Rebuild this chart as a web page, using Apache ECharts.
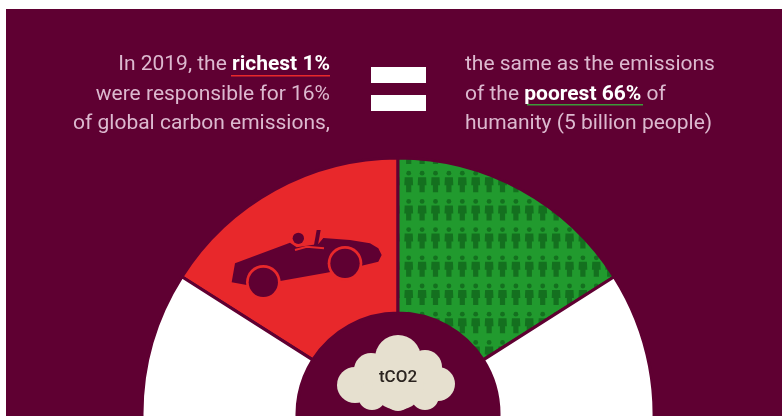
<!DOCTYPE html>
<html>
<head>
<meta charset="utf-8">
<style>html,body{margin:0;padding:0;background:#fff}#c{width:782px;height:416px}</style>
<script src="https://cdn.jsdelivr.net/npm/echarts@6/dist/echarts.min.js"></script>
</head>
<body>
<div id="c"></div>
<script>
const categories = ['Richest 1%', 'Poorest 66%', 'Rest of humanity'];
const shares = [16, 16, 68];
const leftLines = ['In 2019, the {b|richest 1%}', 'were responsible for 16%', 'of global carbon emissions,'];
const rightLines = ['the same as the emissions', 'of the {b|poorest 66%} of', 'humanity (5 billion people)'];
const cloudLabel = 'tCO2';

const BG = '#5f0032', RED = '#e8282b', GREEN = '#219a2e', PERSON = '#14701f', WHITE = '#ffffff', CLOUD = '#e6e0cf', TXT = '#dcb9cf';
const FONT = 'Roboto, sans-serif';

function peopleTile() {
  const w = 13.4, h = 28.2, cv = document.createElement('canvas');
  cv.width = 67; cv.height = 141;
  const g = cv.getContext('2d');
  g.fillStyle = GREEN; g.fillRect(0, 0, 67, 141);
  g.fillStyle = PERSON;
  for (let r = 0; r < 5; r++) for (let k = 0; k < 5; k++) {
    const x = k * w + w / 2, y = r * h + 1;
    g.beginPath(); g.arc(x, y + 3, 2.4, 0, 7); g.fill();
    g.beginPath();
    g.moveTo(x - 4, y + 7); g.lineTo(x + 4, y + 7); g.lineTo(x + 4.4, y + 15);
    g.lineTo(x + 2.6, y + 15); g.lineTo(x + 2.6, y + 22); g.lineTo(x - 2.6, y + 22);
    g.lineTo(x - 2.6, y + 15); g.lineTo(x - 4.4, y + 15); g.closePath(); g.fill();
  }
  return cv;
}

const chart = echarts.init(document.getElementById('c'), null, { renderer: 'canvas' });
const circle = (cx, cy, r, fill) => ({ type: 'circle', silent: true, z: 10, shape: { cx, cy, r }, style: { fill } });
const poly = (points, fill) => ({ type: 'polygon', silent: true, z: 10, shape: { points }, style: { fill } });
const cloudBumps = [[398,358,23],[371,370,17],[355,385,18],[372,396,14],[398,398,13],[425,396,14],[438,384,17],[425,367,17],[398,384,26]];
const carBody = [[315,340],[480,278],[500,292],[565,282],[580,264],[660,270],[720,280],[745,295],[755,315],[745,335],[695,347],[590,368],[455,392],[350,405],[305,397]];

chart.setOption({
  animation: false,
  backgroundColor: 'transparent',
  series: [{
    type: 'pie',
    silent: true,
    center: [398, 414],
    radius: [101, 256],
    startAngle: 147.6,
    clockwise: true,
    label: { show: false },
    labelLine: { show: false },
    z: 2,
    itemStyle: { borderColor: BG, borderWidth: 3 },
    data: categories.map((name, i) => ({
      name,
      value: shares[i],
      itemStyle: {
        color: i === 0 ? RED : i === 1 ? { image: peopleTile(), repeat: 'repeat' } : WHITE
      }
    }))
  }],
  graphic: [
    { type: 'rect', silent: true, z: -10, shape: { x: 6, y: 9, width: 776, height: 407 }, style: { fill: BG } },
    { type: 'text', silent: true, z: 10, style: {
      x: 330, y: 50, align: 'right', text: leftLines.join('\n'), fill: TXT, font: '21px ' + FONT, lineHeight: 29.5,
      rich: { b: { fill: '#ffffff', font: 'bold 21px ' + FONT, lineHeight: 29.5 } } } },
    { type: 'text', silent: true, z: 10, style: {
      x: 465, y: 50, align: 'left', text: rightLines.join('\n'), fill: TXT, font: '21px ' + FONT, lineHeight: 29.5,
      rich: { b: { fill: '#ffffff', font: 'bold 21px ' + FONT, lineHeight: 29.5 } } } },
    { type: 'rect', silent: true, z: 10, shape: { x: 231, y: 75, width: 99, height: 1.5 }, style: { fill: '#e8282b' } },
    { type: 'rect', silent: true, z: 10, shape: { x: 527, y: 104, width: 116, height: 1.5 }, style: { fill: '#3d9a3a' } },
    { type: 'rect', silent: true, z: 10, shape: { x: 371, y: 67, width: 55, height: 16 }, style: { fill: '#fff' } },
    { type: 'rect', silent: true, z: 10, shape: { x: 371, y: 95, width: 55, height: 16 }, style: { fill: '#fff' } },
    { type: 'group', x: 130, y: 150, scaleX: 1 / 3, scaleY: 1 / 3, silent: true, children: [
      poly(carBody, BG),
      circle(400, 397, 52, RED), circle(400, 397, 44, BG),
      circle(645, 340, 52, RED), circle(645, 340, 44, BG),
      circle(505, 265, 17, BG),
      poly([[560,240],[572,240],[562,296],[550,296]], BG),
      { type: 'polyline', silent: true, z: 11, shape: { points: [[495,300],[530,290],[582,295]] }, style: { stroke: RED, lineWidth: 6, fill: 'none' } }
    ] },
    ...cloudBumps.map(b => circle(b[0], b[1], b[2], CLOUD)),
    { type: 'text', silent: true, z: 11, style: { x: 398, y: 378, align: 'center', verticalAlign: 'middle', text: cloudLabel, fill: '#2b2420', font: '500 17px ' + FONT } }
  ]
});
</script>
</body>
</html>
